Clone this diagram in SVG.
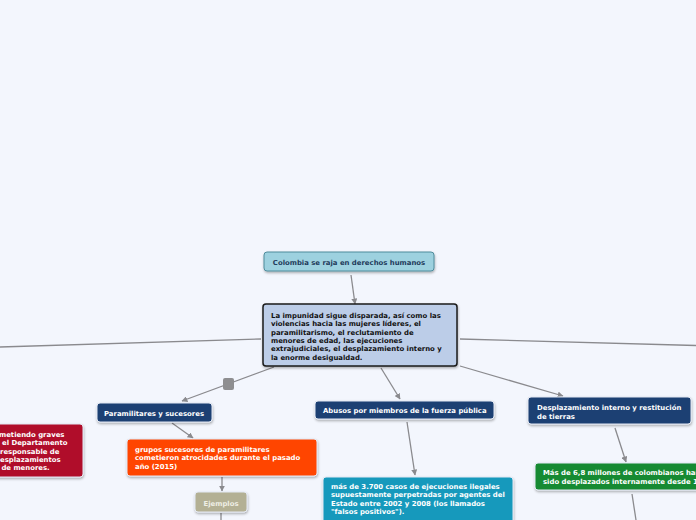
<svg xmlns="http://www.w3.org/2000/svg" width="696" height="520" viewBox="0 0 696 520">
<defs>
<style>
.t{font-family:"DejaVu Sans","Verdana",sans-serif;font-weight:bold;font-size:6.9px}
.w{fill:#ffffff}
.k{fill:#111111}
.c{stroke:#8a8a8e;stroke-width:1.3;fill:none}
.n{stroke:#e4e9f3;stroke-width:1}
</style>
<marker id="ah" viewBox="0 0 10 10" refX="9" refY="5" markerWidth="6" markerHeight="6" markerUnits="userSpaceOnUse" orient="auto">
<path d="M0,0 L10,5 L0,10 Z" fill="#8a8a8e"/>
</marker>
<filter id="sh" x="-10%" y="-20%" width="120%" height="150%">
<feDropShadow dx="0.5" dy="1.5" stdDeviation="1" flood-color="#000000" flood-opacity="0.3"/>
</filter>
</defs>
<rect x="0" y="0" width="696" height="520" fill="#f3f6fd"/>
<g id="connectors">
<line class="c" x1="351" y1="275" x2="355" y2="304" marker-end="url(#ah)"/>
<line class="c" x1="261" y1="339" x2="0" y2="347"/>
<line class="c" x1="460" y1="339" x2="696" y2="345.5"/>
<line class="c" x1="274" y1="367" x2="182" y2="401" marker-end="url(#ah)"/>
<rect x="223" y="378" width="11" height="12" rx="2" fill="#8e8e90"/>
<line class="c" x1="381" y1="368" x2="400" y2="399" marker-end="url(#ah)"/>
<line class="c" x1="460" y1="366" x2="563" y2="396" marker-end="url(#ah)"/>
<line class="c" x1="172" y1="423" x2="193" y2="438" marker-end="url(#ah)"/>
<line class="c" x1="222" y1="477" x2="222" y2="491" marker-end="url(#ah)"/>
<line class="c" x1="221" y1="513" x2="221" y2="520"/>
<line class="c" x1="407" y1="422" x2="415" y2="475" marker-end="url(#ah)"/>
<line class="c" x1="615" y1="428" x2="626" y2="462" marker-end="url(#ah)"/>
<line class="c" x1="632" y1="494" x2="636" y2="520"/>
</g>
<g id="n-colombia">
<rect x="264" y="252" width="170" height="19" rx="3" fill="#9dd1df" stroke="#4f8c9c" stroke-width="1" filter="url(#sh)"/>
<text class="t" x="349" y="264.5" fill="#1f3b5b" text-anchor="middle">Colombia se raja en derechos humanos</text>
</g>
<g id="n-central">
<rect x="263" y="304" width="194" height="62" rx="3" fill="#bccde8" stroke="#1a1a1a" stroke-width="1.5" filter="url(#sh)"/>
<text class="t k" x="271"><tspan x="271" y="318">La impunidad sigue disparada, así como las</tspan><tspan x="271" y="326.3">violencias hacia las mujeres líderes, el</tspan><tspan x="271" y="334.6">paramilitarismo, el reclutamiento de</tspan><tspan x="271" y="342.9">menores de edad, las ejecuciones</tspan><tspan x="271" y="351.2">extrajudiciales, el desplazamiento interno y</tspan><tspan x="271" y="359.5">la enorme desigualdad.</tspan></text>
</g>
<g id="n-paramilitares">
<rect class="n" x="97" y="403" width="115" height="19" rx="3" fill="#1b3f73" filter="url(#sh)"/>
<text class="t w" x="104" y="415.5">Paramilitares y sucesores</text>
</g>
<g id="n-grupos">
<rect class="n" x="127" y="439" width="190" height="37" rx="3" fill="#ff4500" filter="url(#sh)"/>
<text class="t w"><tspan x="135" y="451.5">grupos sucesores de paramilitares</tspan><tspan x="135" y="460">cometieron atrocidades durante el pasado</tspan><tspan x="135" y="468.5">año (2015)</tspan></text>
</g>
<g id="n-ejemplos">
<rect class="n" x="195" y="492" width="52" height="20" rx="3" fill="#b3b094" filter="url(#sh)"/>
<text class="t" x="221" y="505.5" fill="#eeeee4" text-anchor="middle">Ejemplos</text>
</g>
<g id="n-rojo">
<rect class="n" x="-10" y="424" width="93" height="53" rx="3" fill="#b00c2c" filter="url(#sh)"/>
<text class="t w"><tspan x="-1" y="437">metiendo graves</tspan><tspan x="2" y="445.3">el Departamento</tspan><tspan x="0" y="453.6">responsable de</tspan><tspan x="0" y="461.9">esplazamientos</tspan><tspan x="-1" y="470.2"> de menores.</tspan></text>
</g>
<g id="n-abusos">
<rect class="n" x="315" y="401" width="179" height="18" rx="3" fill="#1b3f73" filter="url(#sh)"/>
<text class="t w" x="323" y="412.5">Abusos por miembros de la fuerza pública</text>
</g>
<g id="n-ejecuciones">
<rect class="n" x="323" y="477" width="190" height="50" rx="3" fill="#1599bc" filter="url(#sh)"/>
<text class="t w"><tspan x="331" y="488.5">más de 3.700 casos de ejecuciones ilegales</tspan><tspan x="331" y="497">supuestamente perpetradas por agentes del</tspan><tspan x="331" y="505.5">Estado entre 2002 y 2008 (los llamados</tspan><tspan x="331" y="514">"falsos positivos").</tspan></text>
</g>
<g id="n-desplazamiento">
<rect class="n" x="528" y="397" width="163" height="27" rx="3" fill="#1b3f73" filter="url(#sh)"/>
<text class="t w"><tspan x="537" y="409.5">Desplazamiento interno y restitución</tspan><tspan x="537" y="418.5">de tierras</tspan></text>
</g>
<g id="n-millones">
<rect class="n" x="535" y="463" width="175" height="27" rx="3" fill="#138a33" filter="url(#sh)"/>
<text class="t w"><tspan x="543" y="475">Más de 6,8 millones de colombianos han</tspan><tspan x="543" y="483.5">sido desplazados internamente desde 1</tspan></text>
</g>
</svg>
